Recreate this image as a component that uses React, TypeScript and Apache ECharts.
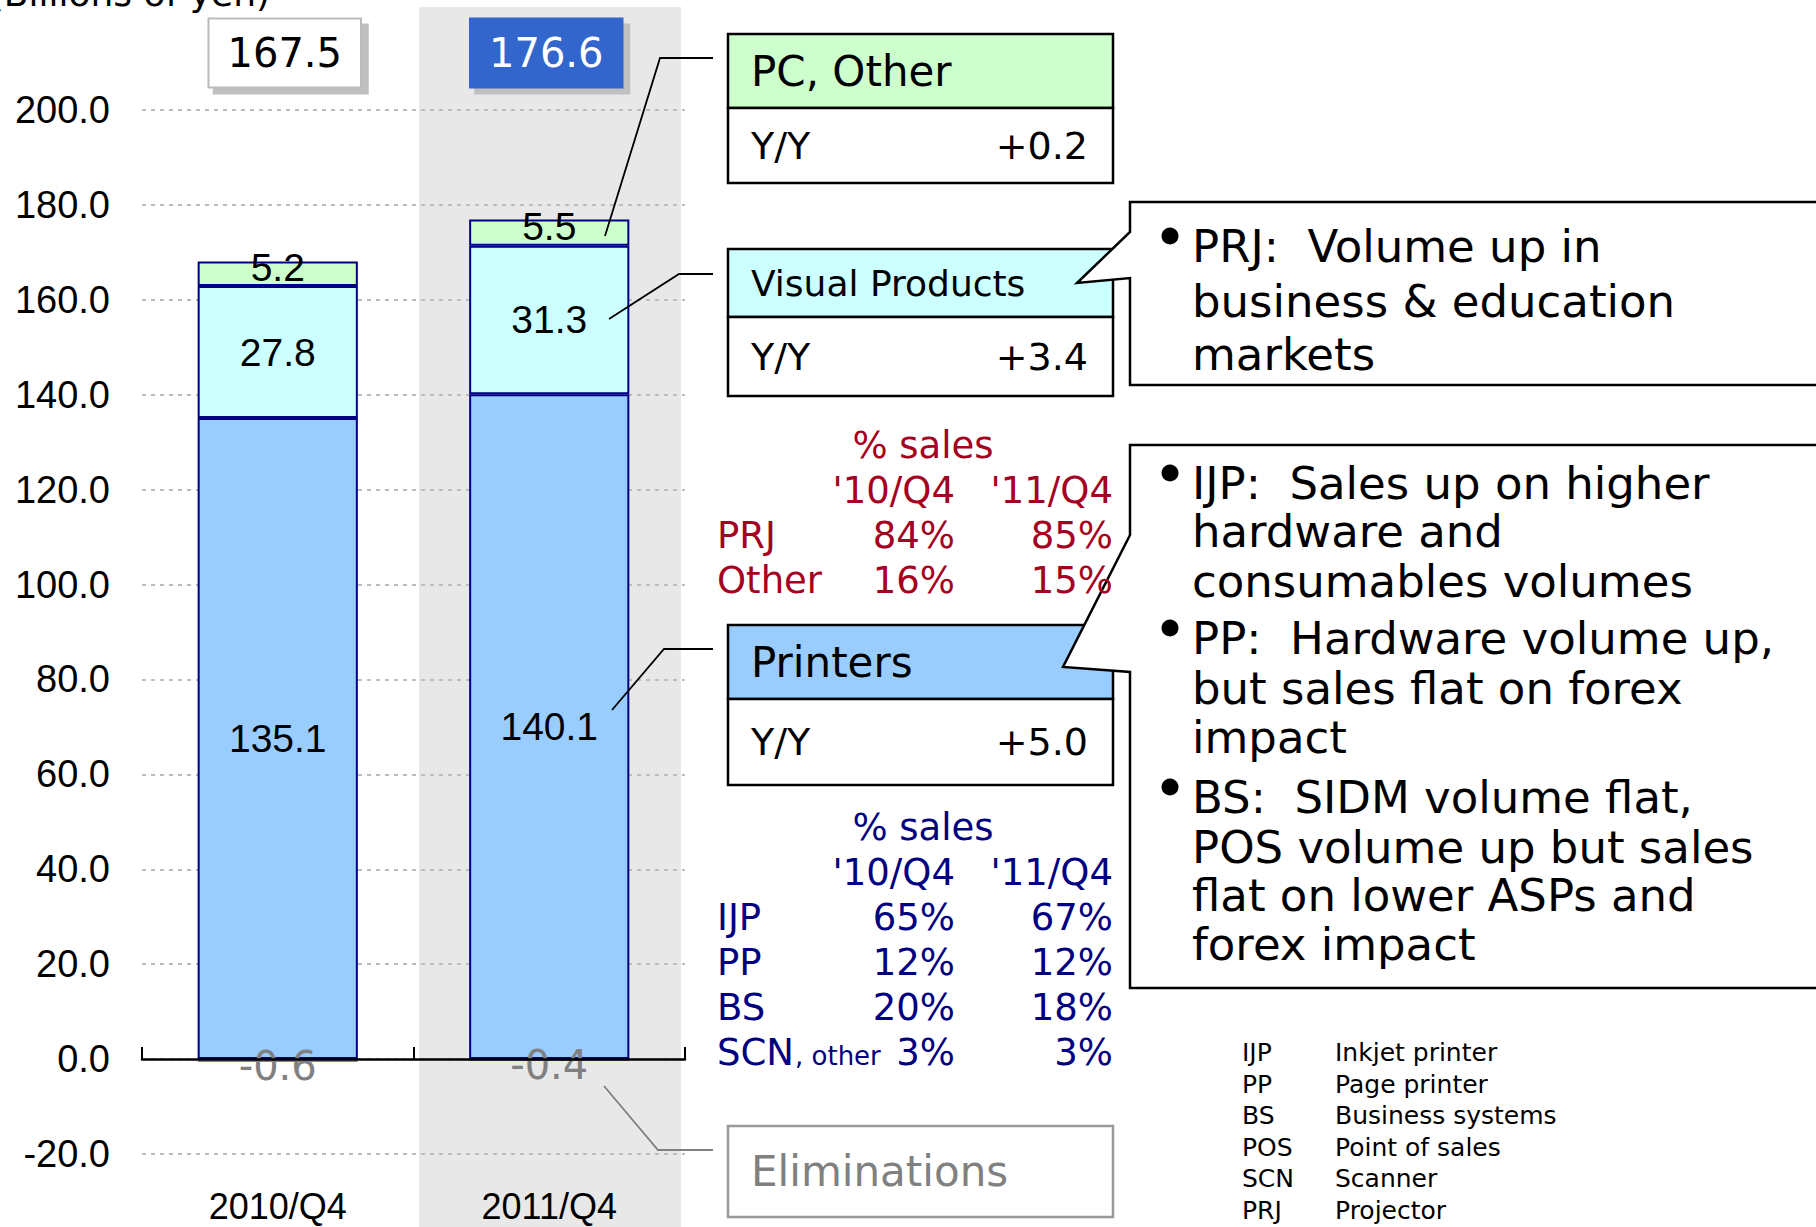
import React, { useEffect, useRef } from 'react';
import * as echarts from 'echarts';

const categories = ['2010/Q4', '2011/Q4'];
const printers = [135.1, 140.1];
const visualProducts = [27.8, 31.3];
const pcOther = [5.2, 5.5];
const eliminations = [-0.6, -0.4];
const totals = [167.5, 176.6];
const totalsLevel = [212, 212];

const segmentNames = ['PC, Other', 'Visual Products', 'Printers', 'Eliminations'];
const segmentYoY = ['+0.2', '+3.4', '+5.0'];

const shareHeads = ["'10/Q4", "'11/Q4"];
const vpShareRows = ['PRJ', 'Other'];
const vpShare10 = ['84%', '16%'];
const vpShare11 = ['85%', '15%'];
const prShareRows = ['IJP', 'PP', 'BS', 'SCN'];
const prShare10 = ['65%', '12%', '20%', '3%'];
const prShare11 = ['67%', '12%', '18%', '3%'];

const prjNotes = [['PRJ:  Volume up in', 'business & education', 'markets']];
const printerNotes = [
  ['IJP:  Sales up on higher', 'hardware and', 'consumables volumes'],
  ['PP:  Hardware volume up,', 'but sales flat on forex', 'impact'],
  ['BS:  SIDM volume flat,', 'POS volume up but sales', 'flat on lower ASPs and', 'forex impact'],
];
const glossAbbr = ['IJP', 'PP', 'BS', 'POS', 'SCN', 'PRJ'];
const glossName = ['Inkjet printer', 'Page printer', 'Business systems', 'Point of sales', 'Scanner', 'Projector'];

const SANS = '"DejaVu Sans", Verdana, sans-serif';
const ARIAL = '"Liberation Sans", Arial, sans-serif';
const RED = '#A50021';
const NAVY = '#000080';

function txt(x: number, baseline: number, text: string, size: number, opts: any = {}) {
  return {
    type: 'text',
    x,
    y: baseline - 0.3 * size,
    z: opts.z ?? 30,
    silent: true,
    style: {
      text,
      fontSize: size,
      fontFamily: opts.family ?? SANS,
      fill: opts.color ?? '#000',
      align: opts.align ?? 'left',
      verticalAlign: 'middle',
    },
  };
}

function buildGraphics() {
  const g: any[] = [];
  // highlighted period band
  g.push({ type: 'rect', z: -10, silent: true, shape: { x: 419, y: 7, width: 262, height: 1220 }, style: { fill: '#E8E8E8' } });
  // unit label (clipped at top, as in the source)
  g.push({ type: 'text', x: 270, y: 4 - 0.3 * 36, z: 30, style: { text: '(Billions of yen)', fontSize: 36, fontFamily: SANS, fill: '#000', align: 'right', verticalAlign: 'middle' } });

  // segment boxes
  const boxX = 728, boxW = 385;
  const boxes = [
    { top: 34, div: 108, bottom: 183, fill: '#CCFFCC', size: 42 },
    { top: 249, div: 317, bottom: 396, fill: '#CCFFFF', size: 36 },
    { top: 625, div: 699, bottom: 785, fill: '#99CCFF', size: 42 },
  ];
  boxes.forEach((b, i) => {
    g.push({ type: 'rect', z: 10, shape: { x: boxX, y: b.top, width: boxW, height: b.div - b.top }, style: { fill: b.fill, stroke: '#000', lineWidth: 2.5 } });
    g.push({ type: 'rect', z: 10, shape: { x: boxX, y: b.div, width: boxW, height: b.bottom - b.div }, style: { fill: '#fff', stroke: '#000', lineWidth: 2.5 } });
    const hc = (b.top + b.div) / 2;
    const rc = (b.div + b.bottom) / 2;
    g.push({ type: 'text', x: 751, y: hc, z: 12, style: { text: segmentNames[i], fontSize: b.size, fontFamily: SANS, fill: '#000', align: 'left', verticalAlign: 'middle' } });
    g.push({ type: 'text', x: 751, y: rc, z: 12, style: { text: 'Y/Y', fontSize: 38, fontFamily: SANS, fill: '#000', align: 'left', verticalAlign: 'middle' } });
    g.push({ type: 'text', x: 1088, y: rc, z: 12, style: { text: segmentYoY[i], fontSize: 38, fontFamily: SANS, fill: '#000', align: 'right', verticalAlign: 'middle' } });
  });
  // eliminations box
  g.push({ type: 'rect', z: 10, shape: { x: boxX, y: 1126, width: boxW, height: 91 }, style: { fill: '#fff', stroke: '#999', lineWidth: 2.5 } });
  g.push({ type: 'text', x: 751, y: 1171, z: 12, style: { text: segmentNames[3], fontSize: 42, fontFamily: SANS, fill: '#808080', align: 'left', verticalAlign: 'middle' } });

  // leader lines
  const leaders = [
    { pts: [[605, 236], [660, 58], [713, 58]], c: '#000' },
    { pts: [[609, 319], [679, 274], [713, 274]], c: '#000' },
    { pts: [[612, 710], [664, 649], [713, 649]], c: '#000' },
    { pts: [[604, 1086], [658, 1150], [713, 1150]], c: '#808080' },
  ];
  leaders.forEach((l) => g.push({ type: 'polyline', z: 40, silent: true, shape: { points: l.pts }, style: { stroke: l.c, lineWidth: 1.8, fill: null } }));

  // share tables
  const tab = (base: number, color: string, rows: string[], a: string[], b: string[]) => {
    g.push(txt(923, base, '% sales', 37, { color, align: 'center' }));
    g.push(txt(955, base + 45, shareHeads[0], 37, { color, align: 'right' }));
    g.push(txt(1113, base + 45, shareHeads[1], 37, { color, align: 'right' }));
    rows.forEach((r, i) => {
      const y = base + 90 + 45 * i;
      g.push(txt(717, y, r, 37, { color }));
      if (r === 'SCN') g.push(txt(795, y, ', other', 26, { color }));
      g.push(txt(955, y, a[i], 37, { color, align: 'right' }));
      g.push(txt(1113, y, b[i], 37, { color, align: 'right' }));
    });
  };
  tab(457, RED, vpShareRows, vpShare10, vpShare11);
  tab(839, NAVY, prShareRows, prShare10, prShare11);

  // callouts
  const c1 = [[1822, 202], [1130, 202], [1130, 232], [1077, 283], [1130, 278], [1130, 385], [1822, 385]];
  const c2 = [[1822, 445], [1130, 445], [1130, 535], [1063, 667], [1130, 672], [1130, 988], [1822, 988]];
  [c1, c2].forEach((pts) => g.push({ type: 'polygon', z: 20, shape: { points: pts }, style: { fill: '#fff', stroke: '#000', lineWidth: 2.5 } }));

  const bullets = (notes: string[][], baselines: number[][]) => {
    notes.forEach((lines, bi) => {
      const bl = baselines[bi];
      g.push({ type: 'circle', z: 22, shape: { cx: 1170, cy: bl[0] - 24, r: 8.5 }, style: { fill: '#000' } });
      lines.forEach((ln, li) => g.push(txt(1192, bl[li], ln, 45, { z: 22 })));
    });
  };
  bullets(prjNotes, [[260, 315, 368]]);
  bullets(printerNotes, [[497, 545, 595], [652, 702, 751], [811, 861, 909, 958]]);

  // glossary
  glossAbbr.forEach((a, i) => {
    const y = 1060 + 31.6 * i;
    g.push(txt(1242, y, a, 25));
    g.push(txt(1335, y, glossName[i], 25));
  });
  return g;
}

export default function App() {
  const ref = useRef<HTMLDivElement>(null);
  useEffect(() => {
    if (!ref.current) return;
    const chart = echarts.init(ref.current, undefined, { renderer: 'svg' });
    const barStyle = (color: string) => ({ color, borderColor: '#000080', borderWidth: 2 });
    const barLabel = (extra: any = {}) => ({
      show: true,
      position: 'inside',
      fontSize: 39,
      fontFamily: ARIAL,
      color: '#000',
      formatter: (p: any) => Number(p.value).toFixed(1),
      ...extra,
    });
    const boxOffsets = [[7, 0], [-3, 0]];
    const totalLabelStyles = [
      { backgroundColor: '#fff', borderColor: '#BBBBBB', color: '#000' },
      { backgroundColor: '#3366CC', borderColor: '#3366CC', color: '#fff' },
    ];
    const boxBase = {
      show: true,
      position: 'inside',
      fontSize: 40,
      fontFamily: SANS,
      lineHeight: 47,
      padding: [10, 18],
      borderWidth: 2,
      opacity: 1,
    };
    chart.setOption({
      animation: false,
      grid: { left: 142, right: 1131, top: 110, bottom: 73 },
      xAxis: [
        {
          type: 'category',
          data: categories,
          axisLine: { onZero: true, lineStyle: { color: '#000', width: 2.5 } },
          axisTick: { show: true, inside: true, length: 12, lineStyle: { color: '#000', width: 2 } },
          axisLabel: { show: false },
          splitLine: { show: false },
          z: 5,
        },
        {
          type: 'category',
          data: categories,
          position: 'bottom',
          axisLine: { show: false, onZero: false },
          axisTick: { show: false },
          axisLabel: { fontSize: 36, lineHeight: 30, fontFamily: ARIAL, color: '#000', margin: 37 },
        },
      ],
      yAxis: {
        type: 'value',
        min: -20,
        max: 200,
        interval: 20,
        axisLine: { show: false },
        axisTick: { show: false },
        axisLabel: { fontSize: 38, fontFamily: ARIAL, color: '#000', margin: 32, formatter: (v: number) => v.toFixed(1) },
        splitLine: { lineStyle: { color: '#BDBDBD', type: [4, 5], width: 2 } },
      },
      series: [
        { name: 'Printers', type: 'bar', stack: 'seg', barWidth: '59%', data: printers, itemStyle: barStyle('#99CCFF'), label: barLabel() },
        { name: 'Visual Products', type: 'bar', stack: 'seg', data: visualProducts, itemStyle: barStyle('#CCFFFF'), label: barLabel() },
        { name: 'PC, Other', type: 'bar', stack: 'seg', data: pcOther, itemStyle: barStyle('#CCFFCC'), label: barLabel({ offset: [0, -6] }) },
        {
          name: 'Eliminations', type: 'bar', stack: 'seg', data: eliminations,
          itemStyle: { color: '#A0A0A0', borderColor: '#808080', borderWidth: 1 },
          label: barLabel({ fontFamily: SANS, fontSize: 40, color: '#808080', offset: [0, 5] }),
        },
        {
          name: 'TotalShadow', type: 'scatter', symbolSize: 0, clip: false, z: 9, silent: true,
          itemStyle: { opacity: 1 },
          data: totals.map((t, i) => ({
            value: [i, totalsLevel[i], t],
            label: {
              ...boxBase,
              formatter: () => ' ',
              width: 116,
              height: 47,
              backgroundColor: '#C0C0C0',
              borderColor: '#C0C0C0',
              color: '#C0C0C0',
              offset: [boxOffsets[i][0] + 6, boxOffsets[i][1] + 6],
            },
          })),
        },
        {
          name: 'Total', type: 'scatter', symbolSize: 0, clip: false, z: 10,
          itemStyle: { opacity: 1 },
          data: totals.map((t, i) => ({
            value: [i, totalsLevel[i], t],
            label: {
              ...boxBase,
              formatter: (p: any) => p.value[2].toFixed(1),
              ...totalLabelStyles[i],
              offset: boxOffsets[i],
            },
          })),
        },
      ],
      graphic: buildGraphics(),
    });
    return () => chart.dispose();
  }, []);
  return <div ref={ref} style={{ position: 'fixed', left: 0, top: 0, width: 1816, height: 1227, background: '#fff' }} />;
}
